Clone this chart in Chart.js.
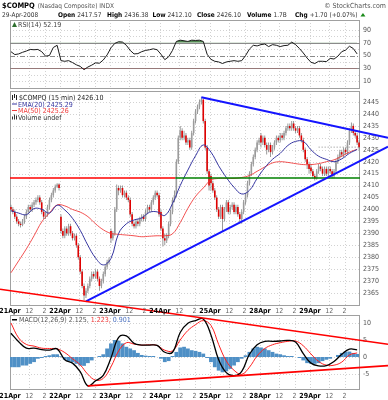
<!DOCTYPE html>
<html>
<head>
<meta charset="utf-8">
<title>$COMPQ 15 min</title>
<script src="https://cdn.jsdelivr.net/npm/chart.js@4.4.1/dist/chart.umd.min.js"></script>
<style>
  html, body { margin: 0; padding: 0; background: #fff; }
  #c { display: block; }
</style>
</head>
<body>
<canvas id="c" width="388" height="400"></canvas>
<script>
// 15 min bars, 26 per session, 21Apr .. 29Apr 2008
const opens = [
  2401, 2400, 2399, 2397, 2395, 2394, 2393.5, 2395, 2397, 2399, 2401, 2400, 2402, 2403, 2404, 2405, 2403, 2399, 2397, 2398, 2401, 2404, 2406, 2408, 2409.5, 2410.5,
  2397, 2391, 2389, 2392, 2390, 2393, 2390, 2388, 2389, 2385, 2380, 2374, 2368, 2364, 2366, 2368, 2371, 2373, 2372, 2374, 2371, 2368, 2370, 2373, 2376, 2378,
  2391, 2388, 2390, 2400, 2409, 2408, 2409, 2406, 2407, 2405, 2404, 2398, 2394, 2393, 2395, 2394, 2396, 2397, 2396, 2399, 2401, 2400, 2403, 2405, 2407, 2406,
  2399, 2392, 2388, 2387, 2389, 2394, 2399, 2404, 2406, 2420, 2430, 2433, 2430, 2431, 2428, 2429, 2426, 2432, 2437, 2441, 2443, 2445, 2446, 2437, 2426, 2416,
  2414, 2411, 2408, 2405, 2400, 2397, 2401, 2396, 2400, 2403, 2399, 2401, 2402, 2399, 2401, 2398, 2396, 2399, 2403, 2406, 2411, 2415, 2419, 2422, 2425, 2428,
  2431, 2428, 2430, 2427, 2425, 2427, 2424, 2426, 2428, 2430, 2429, 2431, 2430, 2432, 2434, 2435, 2434, 2436, 2434, 2433, 2434, 2431, 2429, 2425, 2421, 2419,
  2417.57, 2416, 2414, 2413, 2416, 2418, 2417, 2415, 2417, 2415, 2417, 2416, 2414, 2416, 2420, 2422, 2424, 2423, 2425, 2424, 2428, 2433, 2435, 2432, 2431, 2428
];
const highs = [
  2402, 2401, 2400, 2398, 2396, 2395, 2396, 2398, 2400, 2402, 2402, 2403, 2404, 2405, 2406, 2406, 2404, 2400, 2399, 2402, 2405, 2407, 2409, 2410.5, 2411, 2411,
  2398, 2392, 2393, 2393, 2394, 2394, 2391, 2390, 2390, 2386, 2381, 2375, 2369, 2367, 2369, 2372, 2374, 2374, 2375, 2375, 2372, 2371, 2374, 2377, 2379, 2380,
  2392, 2391, 2401, 2410.5, 2410, 2410, 2410, 2408, 2408, 2406, 2405, 2399, 2395, 2396, 2396, 2397, 2398, 2398, 2400, 2402, 2402, 2404, 2406, 2408, 2408, 2407,
  2400, 2393, 2390, 2390, 2395, 2400, 2405, 2408, 2421, 2431, 2435, 2434, 2433, 2432, 2430, 2430, 2433, 2438, 2442, 2444, 2446, 2447, 2446.5, 2438, 2427, 2417,
  2415, 2412, 2409, 2406, 2401, 2402, 2402, 2401, 2404, 2404, 2402, 2403, 2403, 2402, 2402, 2399, 2400, 2404, 2407, 2412, 2416, 2420, 2423, 2426, 2429, 2430,
  2432, 2431, 2431, 2428, 2428, 2428, 2427, 2429, 2431, 2431, 2432, 2432, 2433, 2435, 2436, 2436, 2437, 2437, 2435, 2435, 2435, 2432, 2430, 2426, 2422, 2420,
  2419, 2417, 2415, 2417, 2419, 2419, 2418, 2418, 2418, 2418, 2418, 2417, 2417, 2421, 2423, 2425, 2425, 2426, 2426, 2429, 2434, 2436.38, 2436, 2433, 2432, 2429
];
const lows = [
  2399, 2398, 2396, 2394, 2393, 2392.5, 2393, 2394, 2396, 2398, 2399, 2399, 2401, 2402, 2403, 2402, 2398, 2396, 2396, 2397, 2400, 2403, 2405, 2407, 2409, 2408,
  2390, 2388, 2388, 2389, 2389, 2389, 2387, 2387, 2384, 2379, 2373, 2367, 2362, 2363, 2365, 2367, 2370, 2371, 2371, 2370, 2366, 2367, 2369, 2372, 2375, 2377,
  2386, 2387, 2389, 2399, 2406, 2407, 2405, 2405, 2404, 2403, 2397, 2393, 2392, 2392, 2393, 2393, 2395, 2395, 2395, 2398, 2399, 2399, 2402, 2404, 2405, 2397,
  2391, 2384.5, 2385, 2386, 2388, 2393, 2398, 2403, 2405, 2419, 2429, 2429, 2429, 2427, 2427, 2425, 2425, 2431, 2436, 2440, 2442, 2444, 2436, 2425, 2415, 2408,
  2408, 2407, 2404, 2399, 2396, 2396, 2391, 2395, 2399, 2398, 2398, 2400, 2398, 2398, 2397, 2394, 2394, 2398, 2402, 2405, 2410, 2414, 2418, 2421, 2424, 2427,
  2426, 2427, 2426, 2423, 2424, 2422, 2423, 2425, 2427, 2428, 2428, 2429, 2429, 2431, 2433, 2433, 2433, 2433, 2432, 2432, 2430, 2428, 2424, 2420, 2417, 2415,
  2415, 2413, 2412.1, 2412.5, 2415, 2416, 2414, 2414, 2414, 2414, 2415, 2413, 2413, 2415, 2419, 2421, 2422, 2422, 2423, 2423, 2427, 2432, 2431, 2430, 2427, 2425
];
const closes = [
  2400, 2399, 2397, 2395, 2394, 2393.5, 2395, 2397, 2399, 2401, 2400, 2402, 2403, 2404, 2405, 2403, 2399, 2397, 2398, 2401, 2404, 2406, 2408, 2409.5, 2410.5, 2409,
  2391, 2389, 2392, 2390, 2393, 2390, 2388, 2389, 2385, 2380, 2374, 2368, 2364, 2366, 2368, 2371, 2373, 2372, 2374, 2371, 2368, 2370, 2373, 2376, 2378, 2379,
  2388, 2390, 2400, 2409, 2408, 2409, 2406, 2407, 2405, 2404, 2398, 2394, 2393, 2395, 2394, 2396, 2397, 2396, 2399, 2401, 2400, 2403, 2405, 2407, 2406, 2398,
  2392, 2388, 2387, 2389, 2394, 2399, 2404, 2406, 2420, 2430, 2433, 2430, 2431, 2428, 2429, 2426, 2432, 2437, 2441, 2443, 2445, 2446, 2437, 2426, 2416, 2410,
  2411, 2408, 2405, 2400, 2397, 2401, 2396, 2400, 2403, 2399, 2401, 2402, 2399, 2401, 2398, 2396, 2399, 2403, 2406, 2411, 2415, 2419, 2422, 2425, 2428, 2429,
  2428, 2430, 2427, 2425, 2427, 2424, 2426, 2428, 2430, 2429, 2431, 2430, 2432, 2434, 2435, 2434, 2436, 2434, 2433, 2434, 2431, 2429, 2425, 2421, 2419, 2417,
  2416, 2414, 2413, 2416, 2418, 2417, 2415, 2417, 2415, 2417, 2416, 2414, 2416, 2420, 2422, 2424, 2423, 2425, 2424, 2428, 2433, 2435, 2432, 2431, 2428, 2426.1
];

// overlays, one value every 4th bar
const LINE_STEP = 4;
const ema20 = [
  2399.5, 2398.5, 2397.8, 2400.4, 2400.1, 2398.5, 2401.8, 2399.8, 2396.3, 2391.3,
  2385.0, 2379.7, 2376.8, 2379.5, 2390.0, 2394.0, 2395.6, 2396.5, 2398.8, 2399.0,
  2397.5, 2402.5, 2410.0, 2416.5, 2422.5, 2427.0, 2424.0, 2418.3, 2413.4, 2409.3,
  2406.5, 2408.0, 2413.0, 2417.5, 2421.0, 2423.5, 2426.8, 2428.5, 2428.5, 2425.0,
  2422.3, 2421.0, 2420.0, 2421.2, 2423.5, 2425.1
];
const ma50 = [
  2373.5, 2378.5, 2383.5, 2389.0, 2394.8, 2398.5, 2401.9, 2401.5, 2400.0, 2398.9,
  2397.0, 2394.0, 2391.5, 2390.0, 2389.6, 2389.3, 2389.0, 2388.6, 2388.8, 2389.0,
  2389.0, 2389.8, 2394.5, 2400.5, 2405.5, 2409.0, 2412.3, 2413.0, 2413.0, 2413.0,
  2413.4, 2414.2, 2416.0, 2417.8, 2419.5, 2420.0, 2419.7, 2419.2, 2418.8, 2418.8,
  2419.2, 2420.0, 2420.8, 2422.3, 2424.0, 2425.2
];
const macdLine = [
  7.0, 4.5, 2.6, 2.6, 2.2, 2.0, 2.4, -0.8, -1.8, -4.3,
  -8.5, -7.0, -5.4, -0.3, 5.8, 6.2, 4.0, 3.5, 3.5, 3.4,
  1.4, 1.4, 7.2, 9.9, 10.7, 11.2, 6.5, -0.8, -4.6, -5.5,
  -4.2, 0.8, 3.6, 4.6, 4.6, 4.7, 4.9, 4.4, 1.0, -1.8,
  -2.6, -2.5, -1.3, 0.8, 2.3, 2.1
];
const macdSignal = [
  10.0, 5.6, 3.7, 3.2, 2.6, 2.5, 2.4, 1.3, -0.5, -2.3,
  -5.1, -6.8, -6.3, -2.9, 1.8, 4.2, 3.8, 3.5, 3.6, 3.4,
  2.0, 1.8, 5.0, 7.8, 9.5, 10.7, 9.3, 3.7, -1.2, -3.9,
  -5.1, -3.0, 0.3, 2.5, 3.6, 4.2, 4.6, 4.7, 3.3, 0.9,
  -1.3, -2.4, -2.4, -1.5, 0.6, 1.2
];

// one value every 2nd bar
const HALF_STEP = 2;
const rsi14 = [
  56, 51.5, 52.5, 55, 57, 59.5, 59, 59.5, 56, 49,
  50, 62.5, 66, 42, 41, 42, 39, 35.5, 33, 28,
  32, 35, 38.5, 38, 43, 51, 62, 69, 71.5, 71,
  66, 58, 52.5, 53, 56, 58, 59, 60.5, 59, 52,
  43.5, 48, 58, 72, 74, 73, 72, 74, 73.5, 74,
  72, 52, 44, 41, 40, 37.5, 40, 41, 42, 41,
  42, 50, 60, 66, 65, 67, 68, 64, 67, 66,
  64, 65.5, 66, 71, 67, 61, 54, 46, 39.5, 37.5,
  41, 41, 40.5, 45.5, 44.5, 49, 56, 58.5, 64.5, 61,
  52.5
];
const macdHist = [
  -3, -3, -3, -2.5, -2.5, -2, -1.5, -0.5, -0.3, 0.3,
  0.5, 0.8, 0.8, 0.2, -0.8, -1.2, -1.5, -2, -2.5, -2.6,
  -1.8, -1, 0, 0.3, 0.8, 2.5, 4, 5, 4.8, 4,
  3, 2.5, 2, 1.2, 0.6, 0.4, 0.3, 0.3, 0, -0.5,
  -1.5, -1.2, 0.3, 1.5, 2.8, 3, 2.5, 2, 1.8, 1.5,
  1, -0.3, -1.5, -3, -4, -4.5, -4.2, -3.5, -2.5, -1.5,
  -0.5, 0.5, 1.5, 2.5, 3, 2.8, 2.5, 2, 1.5, 1,
  0.8, 0.5, 0.3, 0.3, 0, -0.3, -1, -1.8, -2, -2,
  -1.8, -1.2, -0.8, -0.5, 0, 0.6, 1.2, 1.6, 1.6, 1.2,
  0.9
];

// axes
const xTickBars = [-0.5, 9.5, 17.5, 25.5, 35.5, 43.5, 51.5, 61.5, 69.5, 77.5, 87.5, 95.5,
                   103.5, 113.5, 121.5, 129.5, 139.5, 147.5, 155.5, 165.5, 173.5];
const xTickLabels = ['21Apr', '12', '2', '22Apr', '12', '2', '23Apr', '12', '2', '24Apr', '12', '2',
                     '25Apr', '12', '2', '28Apr', '12', '2', '29Apr', '12', '2'];
const priceTicks = [2365, 2370, 2375, 2380, 2385, 2390, 2395, 2400, 2405, 2410, 2415, 2420, 2425, 2430, 2435, 2440, 2445];
const rsiTicks = [10, 20, 30, 40, 50, 60, 70, 80, 90];
const rsiTickLabels = ['10', '', '30', '', '50', '', '70', '', '90'];
const macdTicks = [-5, 0, 5, 10];

// drawn annotations: [bar, value, axis] -> [bar, value, axis]
const trendLines = [
  [39, 2361.5, 'price', 165, 2413.5, 'price'],
  [99, 2447, 'price', 176, 2433.5, 'price'],
  [39, 2361.5, 'price', 103, 11.2, 'macd'],
  [40, -8.5, 'macd', 116, -5.6, 'macd']
];
const levelValues = [2413.2, 2413.2, 2426.1];
const levelFrom = [-0.5, 85.5, 160];
const levelTo = [85.5, 181.5, 181.5];

const FONT = '"DejaVu Sans Condensed", "DejaVu Sans", sans-serif';
const fnt = (size, bold) => (bold ? 'bold ' : '') + size + 'px ' + FONT;
const isDay = i => i % 3 === 0;

function seg(ctx, x1, y1, x2, y2) {
  ctx.beginPath();
  ctx.moveTo(x1, y1);
  ctx.lineTo(x2, y2);
  ctx.stroke();
}

const stockPlugin = {
  id: 'stockPanels',
  beforeDatasetsDraw(chart) {
    const { ctx, chartArea: ca, scales } = chart;
    const x = scales.x;
    ctx.save();
    ctx.lineWidth = 1;
    for (const id of ['rsi', 'price', 'macd']) {
      const y = scales[id];
      ctx.strokeStyle = '#d2d2d2';
      ctx.setLineDash([1, 2]);
      for (const t of x.ticks) {
        const px = Math.round(x.getPixelForValue(t.value)) + 0.5;
        seg(ctx, px, y.top, px, y.bottom);
      }
      for (const t of y.ticks) {
        if (id === 'rsi' && [30, 50, 70].includes(t.value)) continue;
        const py = Math.round(y.getPixelForValue(t.value)) + 0.5;
        seg(ctx, ca.left, py, ca.right, py);
      }
      ctx.setLineDash([]);
      ctx.strokeStyle = '#a0a0a0';
      ctx.strokeRect(ca.left + 0.5, Math.round(y.top) + 0.5, ca.right - ca.left - 1, Math.round(y.bottom - y.top) - 1);
    }
    const r = scales.rsi;
    ctx.strokeStyle = '#8a8a8a';
    for (const v of [30, 70]) {
      const py = Math.round(r.getPixelForValue(v)) + 0.5;
      seg(ctx, ca.left, py, ca.right, py);
    }
    ctx.setLineDash([5, 2, 1, 2]);
    const p50 = Math.round(r.getPixelForValue(50)) + 0.5;
    seg(ctx, ca.left, p50, ca.right, p50);
    ctx.restore();
  },
  afterDatasetsDraw(chart) {
    const { ctx, scales } = chart;
    const x = scales.x, p = scales.price;
    ctx.save();
    // horizontal levels
    const levelStyle = [['#ff0000', 1.5, []], ['#008000', 1.5, []], ['#888888', 1, [1, 2]]];
    levelValues.forEach((v, i) => {
      ctx.strokeStyle = levelStyle[i][0];
      ctx.lineWidth = levelStyle[i][1];
      ctx.setLineDash(levelStyle[i][2]);
      const py = p.getPixelForValue(v);
      seg(ctx, x.getPixelForValue(levelFrom[i]), py, x.getPixelForValue(levelTo[i]), py);
    });
    ctx.setLineDash([]);
    // trend lines, extended to the right edge of the picture
    const trendStyle = [['#1414ff', 2, false], ['#1414ff', 2, false], ['#ff0000', 1.6, true], ['#ff0000', 1.6, false]];
    trendLines.forEach((t, i) => {
      const x1 = x.getPixelForValue(t[0]), y1 = scales[t[2]].getPixelForValue(t[1]);
      const x2 = x.getPixelForValue(t[3]), y2 = scales[t[5]].getPixelForValue(t[4]);
      const k = (y2 - y1) / (x2 - x1);
      const xs = trendStyle[i][2] ? 0 : x1;
      const xe = chart.width;
      ctx.strokeStyle = trendStyle[i][0];
      ctx.lineWidth = trendStyle[i][1];
      seg(ctx, xs, y1 + k * (xs - x1), xe, y1 + k * (xe - x1));
    });
    ctx.restore();
  },
  afterDraw(chart) {
    const { ctx, chartArea: ca, scales } = chart;
    const L = ca.left, x = scales.x;
    const r = scales.rsi, p = scales.price, m = scales.macd;
    ctx.save();
    ctx.textAlign = 'left';
    ctx.textBaseline = 'alphabetic';

    // header
    ctx.font = fnt(7.5, true); ctx.fillStyle = '#000';
    ctx.fillText('$COMPQ', 2, 8);
    const tw = ctx.measureText('$COMPQ').width;
    ctx.font = fnt(6.5); ctx.fillStyle = '#555';
    ctx.fillText('(Nasdaq Composite) INDX', 2 + tw + 3, 8);
    ctx.textAlign = 'right';
    ctx.font = fnt(7);
    ctx.fillText('\u00A9 StockCharts.com', 386, 8);
    ctx.textAlign = 'left';
    ctx.font = fnt(6.5); ctx.fillStyle = '#333';
    ctx.fillText('29-Apr-2008', 2, 17);
    const quote = [['Open', '2417.57', 58], ['High', '2436.38', 107], ['Low', '2412.10', 151],
                   ['Close', '2426.10', 197], ['Volume', '1.7B', 247], ['Chg', '+1.70 (+0.07%)', 295]];
    let endX = 0;
    for (const [k, v, px] of quote) {
      const sx = Math.max(px, endX + 4);
      ctx.font = fnt(6.5, true); ctx.fillStyle = '#000';
      ctx.fillText(k, sx, 17);
      const w = ctx.measureText(k).width;
      ctx.font = fnt(6.5); ctx.fillStyle = '#333';
      ctx.fillText(v, sx + w + 2, 17);
      endX = sx + w + 2 + ctx.measureText(v).width;
    }
    ctx.fillStyle = '#1a8a1a';
    ctx.beginPath(); ctx.moveTo(endX + 3, 16.5); ctx.lineTo(endX + 5.5, 13); ctx.lineTo(endX + 8, 16.5); ctx.fill();

    // RSI legend
    let by = r.top + 7;
    ctx.fillStyle = '#2f6f2f';
    ctx.beginPath(); ctx.moveTo(L + 2, by); ctx.lineTo(L + 4.5, by - 5); ctx.lineTo(L + 7, by); ctx.fill();
    ctx.font = fnt(7); ctx.fillStyle = '#444';
    ctx.fillText('RSI(14) 52.19', L + 8, by);

    // price legend
    by = p.top + 9;
    ctx.fillStyle = '#222';
    ctx.fillRect(L + 2, by - 5, 1, 5); ctx.fillRect(L + 4, by - 6, 1, 4); ctx.fillRect(L + 6, by - 5, 1, 5);
    ctx.fillText('$COMPQ (15 min) 2426.10', L + 9, by);
    by += 6.5;
    ctx.fillStyle = '#3535a0';
    ctx.fillRect(L + 2, by - 3, 5, 1);
    ctx.fillText('EMA(20) 2425.29', L + 8, by);
    by += 6.5;
    ctx.fillStyle = '#f03a3a';
    ctx.fillRect(L + 2, by - 3, 5, 1);
    ctx.fillText('MA(50) 2425.26', L + 8, by);
    by += 6.5;
    ctx.fillStyle = '#333';
    ctx.fillRect(L + 2, by - 3, 1, 3); ctx.fillRect(L + 4, by - 5, 1, 5); ctx.fillRect(L + 6, by - 4, 1, 4);
    ctx.fillText('Volume undef', L + 8, by);

    // MACD legend
    by = m.top + 7;
    ctx.fillStyle = '#000';
    ctx.fillRect(L + 2, by - 3, 5, 1.5);
    ctx.fillStyle = '#555';
    let tx = L + 9;
    ctx.fillText('MACD(12,26,9) 2.125, ', tx, by);
    tx += ctx.measureText('MACD(12,26,9) 2.125, ').width;
    ctx.fillStyle = '#ee3333';
    ctx.fillText('1.223, ', tx, by);
    tx += ctx.measureText('1.223, ').width;
    ctx.fillStyle = '#4a70c0';
    ctx.fillText('0.901', tx, by);

    // date labels between price and MACD panes
    ctx.textAlign = 'center';
    ctx.textBaseline = 'top';
    x.ticks.forEach((t, i) => {
      ctx.font = fnt(7, isDay(i));
      ctx.fillStyle = isDay(i) ? '#000' : '#666';
      ctx.fillText(xTickLabels[i], x.getPixelForValue(t.value), p.bottom + 1.5);
    });
    ctx.restore();
  }
};

function pane(weight, min, max, tickVals, tickText) {
  return {
    type: 'linear', axis: 'y', position: 'right', stack: 'panes', stackWeight: weight,
    min: min, max: max,
    grid: { display: false, drawTicks: false },
    border: { display: false },
    afterBuildTicks: s => { s.ticks = tickVals.map(v => ({ value: v })); },
    afterFit: s => { s.width = 28; s.paddingTop = 0; s.paddingBottom = 0; },
    ticks: {
      display: tickVals.length > 0,
      autoSkip: false,
      padding: 3,
      font: { family: FONT, size: 7 },
      color: '#555',
      callback: (v, i) => tickText[i]
    }
  };
}

const candleColor = c => closes[c.dataIndex] < opens[c.dataIndex] ? '#e00000' : '#9c9c9c';

new Chart(document.getElementById('c'), {
  type: 'bar',
  data: {
    datasets: [
      {
        type: 'line', label: 'MACD', yAxisID: 'macd', order: 1,
        data: macdLine.map((v, i) => ({ x: i * LINE_STEP, y: v })),
        borderColor: '#000', borderWidth: 1.3, pointRadius: 0, tension: 0.4
      },
      {
        type: 'line', label: 'Signal', yAxisID: 'macd', order: 2,
        data: macdSignal.map((v, i) => ({ x: i * LINE_STEP, y: v })),
        borderColor: '#ff2020', borderWidth: 1, pointRadius: 0, tension: 0.4
      },
      {
        type: 'line', label: 'EMA(20)', yAxisID: 'price', order: 3,
        data: ema20.map((v, i) => ({ x: i * LINE_STEP, y: v })),
        borderColor: '#3535a0', borderWidth: 1, pointRadius: 0, tension: 0.4
      },
      {
        type: 'line', label: 'MA(50)', yAxisID: 'price', order: 4,
        data: ma50.map((v, i) => ({ x: i * LINE_STEP, y: v })),
        borderColor: 'rgba(240,50,50,0.85)', borderWidth: 1, pointRadius: 0, tension: 0.4
      },
      {
        label: 'body', yAxisID: 'price', order: 5, grouped: false,
        data: closes.map((c, i) => ({ x: i, y: [opens[i], c] })),
        backgroundColor: candleColor, borderWidth: 0, barThickness: 1.6, minBarLength: 1, inflateAmount: 0
      },
      {
        label: 'wick', yAxisID: 'price', order: 6, grouped: false,
        data: highs.map((h, i) => ({ x: i, y: [lows[i], h] })),
        backgroundColor: '#808080', borderWidth: 0, barThickness: 0.8, inflateAmount: 0
      },
      {
        type: 'line', label: 'RSI(14)', yAxisID: 'rsi', order: 7,
        data: rsi14.map((v, i) => ({ x: i * HALF_STEP, y: v })),
        borderColor: '#1a1a1a', borderWidth: 1, pointRadius: 0, tension: 0,
        fill: { target: { value: 70 }, above: 'rgba(50,115,50,0.85)', below: 'rgba(0,0,0,0)' }
      },
      {
        type: 'line', label: 'RSI oversold', yAxisID: 'rsi', order: 8,
        data: rsi14.map((v, i) => ({ x: i * HALF_STEP, y: v })),
        borderColor: 'rgba(0,0,0,0)', borderWidth: 0, pointRadius: 0, tension: 0,
        fill: { target: { value: 30 }, above: 'rgba(0,0,0,0)', below: '#d03030' }
      },
      {
        label: 'Histogram', yAxisID: 'macd', order: 9, grouped: false,
        data: macdHist.map((v, i) => ({ x: i * HALF_STEP, y: v })),
        backgroundColor: '#4f90c6', borderWidth: 0, barThickness: 3.8, inflateAmount: 0
      }
    ]
  },
  options: {
    responsive: false,
    animation: false,
    events: [],
    devicePixelRatio: 1,
    layout: { padding: { top: 20, left: 10, right: 0, bottom: 0 } },
    plugins: { legend: { display: false }, tooltip: { enabled: false } },
    scales: {
      x: {
        type: 'linear', position: 'bottom', min: -0.5, max: 181.5, offset: false,
        grid: { display: false, drawTicks: false, offset: false },
        border: { display: false },
        afterBuildTicks: s => { s.ticks = xTickBars.map(v => ({ value: v })); },
        afterFit: s => { s.height = 10; s.paddingLeft = 0; s.paddingRight = 0; },
        ticks: {
          autoSkip: false, maxRotation: 0, padding: 1.5,
          font: c => ({ family: FONT, size: 7, weight: isDay(c.index) ? 'bold' : 'normal' }),
          color: c => isDay(c.index) ? '#000' : '#666',
          callback: (v, i) => xTickLabels[i]
        }
      },
      rsi: pane(69, -2.3, 105.5, rsiTicks, rsiTickLabels),
      gapTop: pane(2, 0, 1, [], []),
      price: pane(215, 2359.6, 2449.6, priceTicks, priceTicks.map(String)),
      gapMid: pane(9, 0, 1, [], []),
      macd: pane(75, -9.7, 12.35, macdTicks, macdTicks.map(String))
    }
  },
  plugins: [stockPlugin]
});
</script>
</body>
</html>
